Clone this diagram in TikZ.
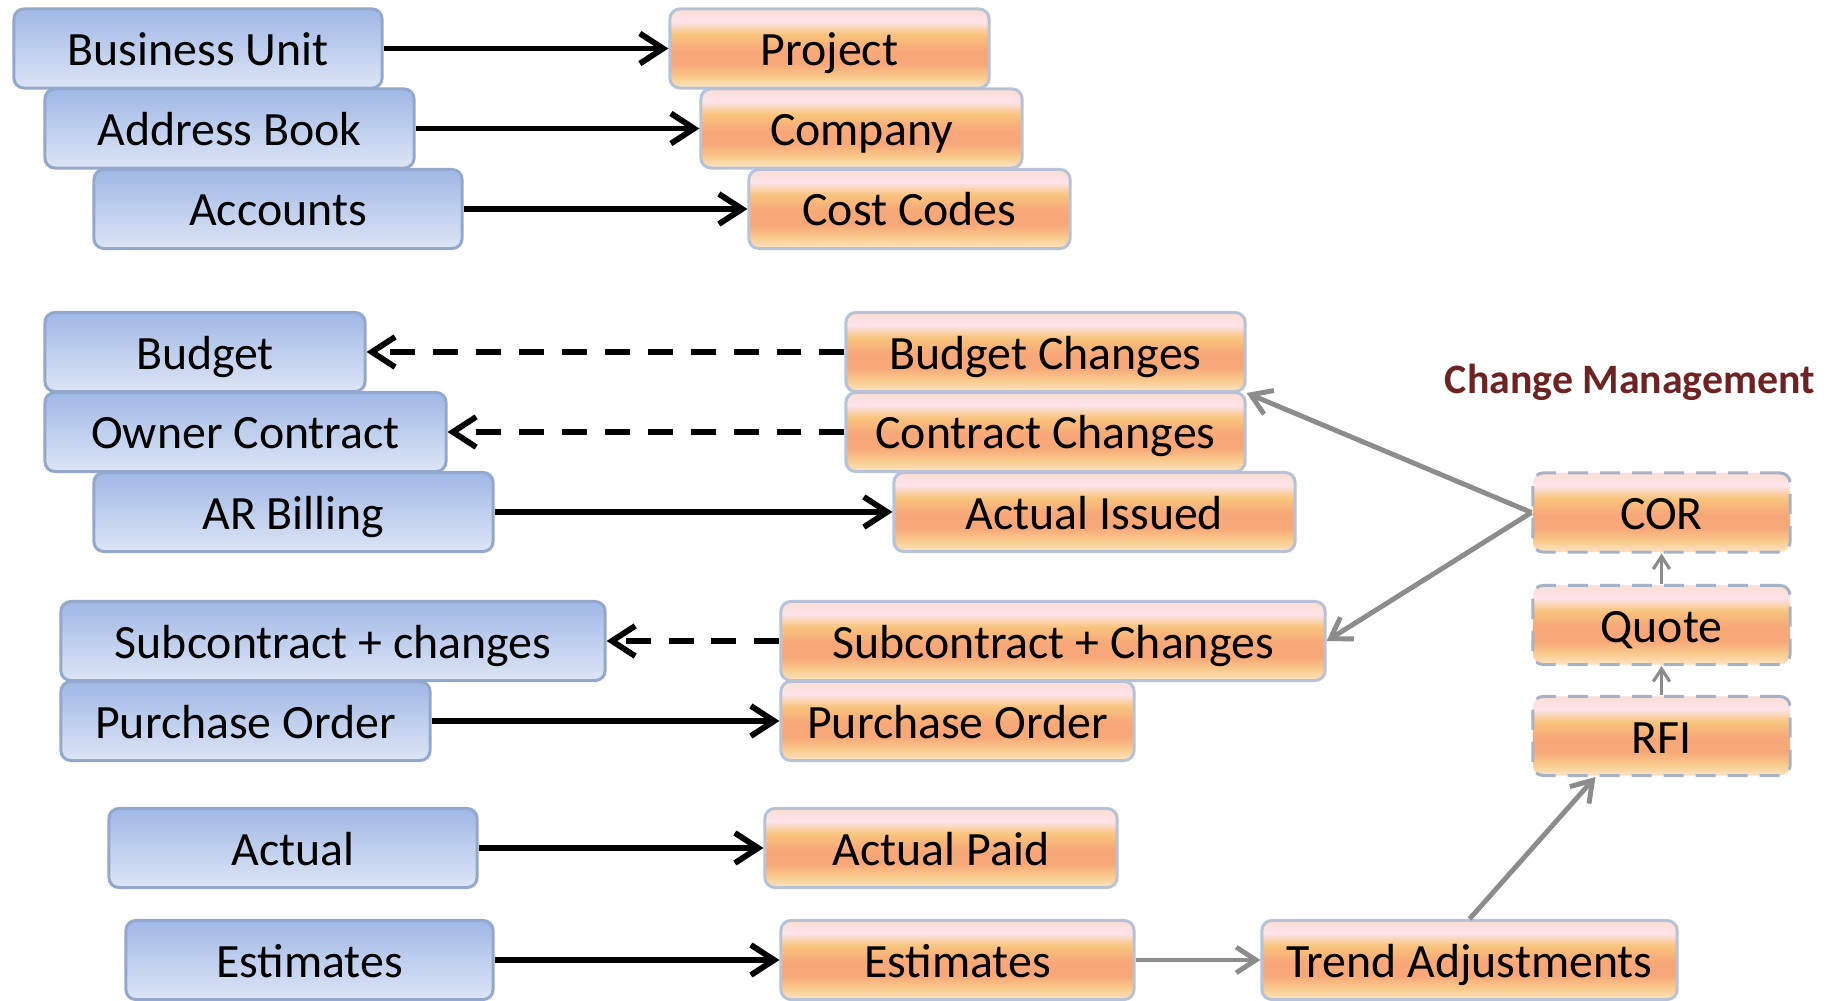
\documentclass[tikz,border=0pt]{standalone}
\usepackage{fontspec}
\setmainfont{Carlito}
\usepackage{tikz}
\usetikzlibrary{shapes,arrows.meta,positioning}

\definecolor{bluetop}{HTML}{A0B8E6}
\definecolor{bluebot}{HTML}{DDE5F5}
\definecolor{blueline}{HTML}{93A8CC}
\definecolor{opink}{HTML}{FCE4EA}
\definecolor{oyellow}{HTML}{F9C47C}
\definecolor{osalmon}{HTML}{F8A878}
\definecolor{opale}{HTML}{FCE0BC}
\definecolor{oline}{HTML}{B7C2D6}
\definecolor{cmline}{HTML}{A6B2C6}
\definecolor{arrowgray}{HTML}{8C8C8C}
\definecolor{cmtitle}{HTML}{6E2222}

\pgfdeclareverticalshading{orangebar}{100bp}{color(0bp)=(opale); color(26bp)=(opale); color(32bp)=(oyellow!75!opale); color(40bp)=(osalmon); color(49bp)=(osalmon); color(59bp)=(oyellow); color(67bp)=(opink); color(75bp)=(opink!80!oyellow); color(100bp)=(opink!80!oyellow)}

\begin{document}
\begin{tikzpicture}[x=0.01cm, y=-0.01cm,
	font=\fontsize{13.6}{16}\selectfont,
	>={Straight Barb[length=0pt 4, width=0pt 5.2]},
	bluebox/.style={draw=blueline, line width=0.85pt, rounded corners=0.1cm, top color=bluetop, bottom color=bluebot, minimum height=0.79cm, text height=0.34cm, text depth=0cm, inner sep=0pt},
	orangebox/.style={draw=oline, line width=0.85pt, rounded corners=0.1cm, shade, shading=orangebar, minimum height=0.79cm, text height=0.34cm, text depth=0cm, inner sep=0pt},
	cmbox/.style={orangebox, draw=cmline, dash pattern=on 5.7pt off 3.4pt}]
				\useasboundingbox (0,0) rectangle (1842,1001);
				\node [bluebox, minimum width=3.68cm] (bu) at (198,48.5) {Business Unit};
				\node [bluebox, minimum width=3.69cm] (ab) at (229.5,128.5) {Address Book};
				\node [bluebox, minimum width=3.68cm] (acc) at (278,209) {Accounts};
				\node [orangebox, minimum width=3.19cm] (proj) at (829.5,48.5) {Project};
				\node [orangebox, minimum width=3.21cm] (comp) at (861.5,128.5) {Company};
				\node [orangebox, minimum width=3.21cm] (cc) at (909.5,209) {Cost Codes};
				\node [bluebox, minimum width=3.20cm] (bud) at (205,352) {Budget};
				\node [bluebox, minimum width=4.01cm] (oc) at (245.5,432) {Owner Contract};
				\node [bluebox, minimum width=3.99cm] (ar) at (293.5,512) {AR Billing};
				\node [orangebox, minimum width=3.99cm] (bchg) at (1045.5,352) {Budget Changes};
				\node [orangebox, minimum width=3.99cm] (cchg) at (1045.5,432) {Contract Changes};
				\node [orangebox, minimum width=4.01cm] (ai) at (1094.5,512) {Actual Issued};
				\node [bluebox, minimum width=5.44cm] (subb) at (333,641) {Subcontract + changes};
				\node [bluebox, minimum width=3.69cm] (pob) at (245.5,721) {Purchase Order};
				\node [orangebox, minimum width=5.44cm] (subo) at (1053,641) {Subcontract + Changes};
				\node [orangebox, minimum width=3.53cm] (poo) at (957.5,721) {Purchase Order};
				\node [bluebox, minimum width=3.68cm] (act) at (293,848) {Actual};
				\node [orangebox, minimum width=3.52cm] (ap) at (941,848) {Actual Paid};
				\node [bluebox, minimum width=3.67cm] (estb) at (309.5,960) {Estimates};
				\node [orangebox, minimum width=3.53cm] (esto) at (957.5,960) {Estimates};
				\node [orangebox, minimum width=4.15cm] (ta) at (1469.5,960) {Trend Adjustments};
				\node [cmbox, minimum width=2.57cm] (cor) at (1661.5,512.5) {COR};
				\node [cmbox, minimum width=2.57cm] (quote) at (1661.5,625) {Quote};
				\node [cmbox, minimum width=2.57cm] (rfi) at (1661.5,736) {RFI};
				\node [text=cmtitle, font=\fontsize{11.9}{14}\selectfont\bfseries] (cmt) at (1630,382) {Change Management};
				\draw [->] [line width=1.65pt] (bu) -- (proj);
				\draw [->] [line width=1.65pt] (ab) -- (comp);
				\draw [->] [line width=1.65pt] (acc) -- (cc);
				\draw [->] [line width=1.65pt, dash pattern=on 7.1pt off 5.1pt] (bchg) -- (bud);
				\draw [->] [line width=1.65pt, dash pattern=on 7.1pt off 5.1pt] (cchg) -- (oc);
				\draw [->] [line width=1.65pt] (ar) -- (ai);
				\draw [->] [line width=1.65pt, dash pattern=on 7.1pt off 5.1pt] (subo) -- (subb);
				\draw [->] [line width=1.65pt] (pob) -- (poo);
				\draw [->] [line width=1.65pt] (act) -- (ap);
				\draw [->] [line width=1.65pt] (estb) -- (esto);
				\draw [->] [line width=1.4pt, draw=arrowgray] (esto) -- (ta);
				\draw [->] [line width=1.4pt, draw=arrowgray] (ta.north) -- ([xshift=-0.66cm]rfi.south);
				\draw [->] [line width=0.9pt, draw=arrowgray] (rfi) -- (quote);
				\draw [->] [line width=0.9pt, draw=arrowgray] (quote) -- (cor);
				\draw [->] [line width=1.4pt, draw=arrowgray] (cor.west) -- (bchg.south east);
				\draw [->] [line width=1.4pt, draw=arrowgray] (cor.west) -- (subo.east);
\end{tikzpicture}
\end{document}
